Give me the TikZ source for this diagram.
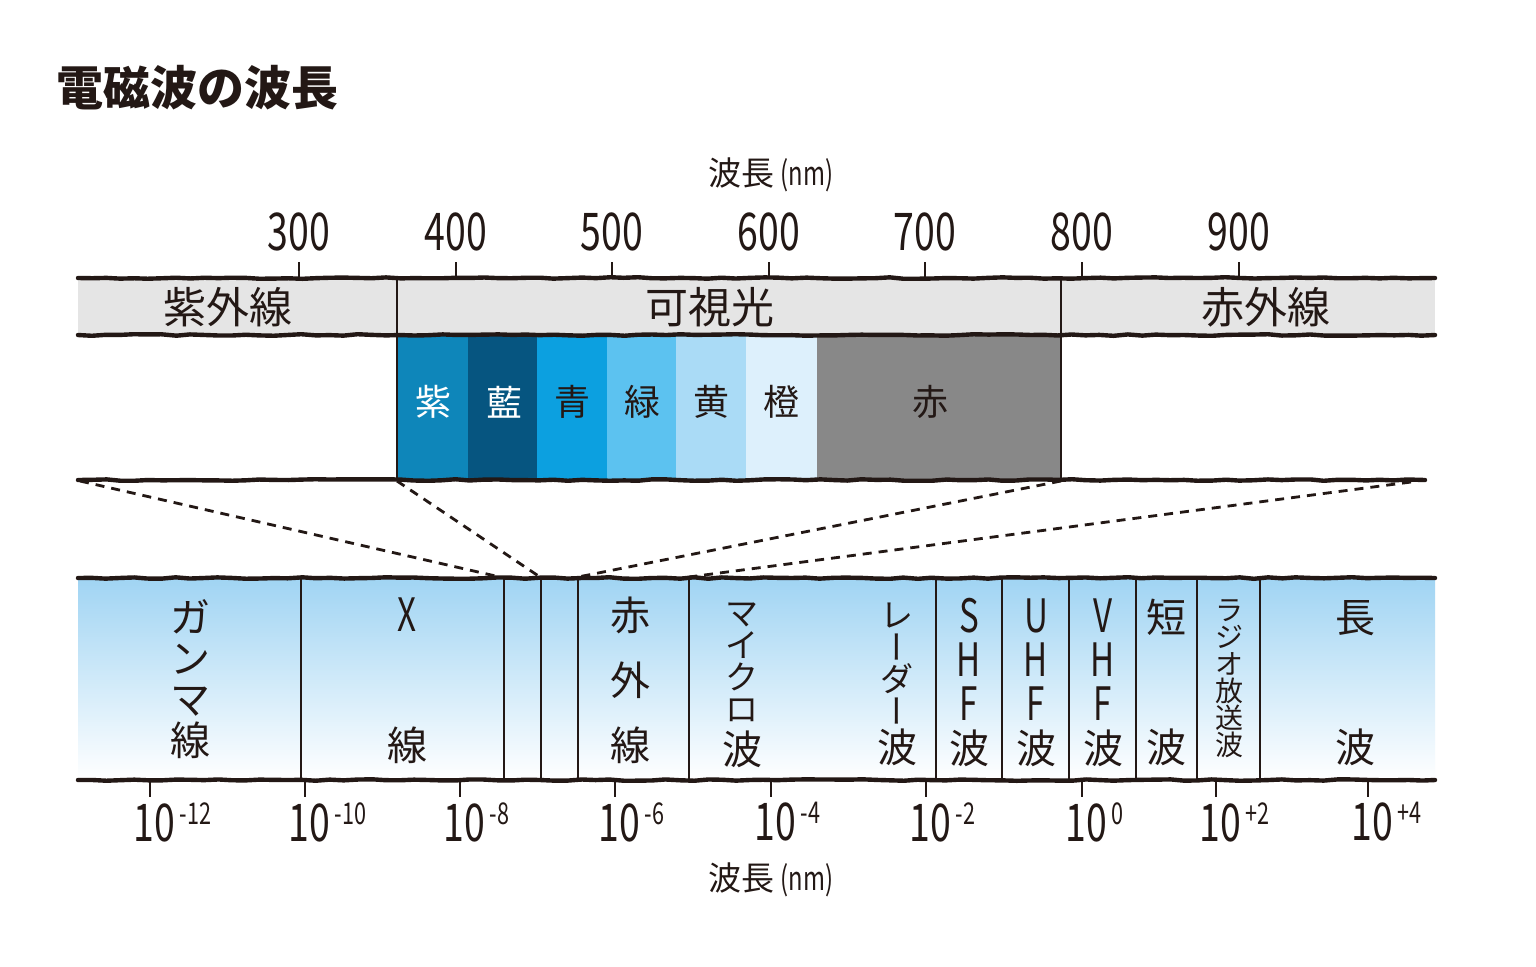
\documentclass[tikz,border=0pt]{standalone}
\usepackage{fontspec}
\setmainfont{Noto Sans CJK JP}
\newfontfamily\numfont[FakeStretch=0.72]{Noto Sans CJK JP}
\usetikzlibrary{decorations.pathmorphing}
\definecolor{bandgray}{RGB}{229,229,229}
\definecolor{skytop}{RGB}{160,212,243}
\definecolor{cviolet}{RGB}{14,134,186}
\definecolor{cindigo}{RGB}{6,85,128}
\definecolor{cblue}{RGB}{12,160,224}
\definecolor{cgreen}{RGB}{92,194,240}
\definecolor{cyellow}{RGB}{170,219,246}
\definecolor{corange}{RGB}{221,240,252}
\definecolor{cred}{RGB}{136,136,136}
\definecolor{inkline}{RGB}{35,24,21}
\tikzset{
  rim/.style={inkline, line width=2.2pt, line cap=round, decorate,
              decoration={random steps, segment length=7pt, amplitude=0.4pt}},
  sep/.style={inkline, line width=0.9pt},
  axtick/.style={inkline, line width=1.2pt},
  guide/.style={inkline, line width=1.4pt, dash pattern=on 4.5pt off 3.5pt},
  titlelbl/.style={font=\fontsize{23.5}{24}\selectfont\bfseries, text=inkline},
  axlbl/.style={font=\fontsize{16.5}{17}\selectfont, text=inkline},
  numlbl/.style={font=\numfont\fontsize{26}{26}\selectfont, text=inkline},
  bandlbl/.style={font=\fontsize{21.5}{22}\selectfont, text=inkline},
  hue/.style={font=\fontsize{18}{18}\selectfont},
  vch/.style={font=\fontsize{20}{20}\selectfont, text=inkline, inner sep=0pt,
              text height=16pt, text depth=1pt},
  vkana/.style={font=\fontsize{16.5}{17}\selectfont, text=inkline, inner sep=0pt,
                text height=13pt, text depth=0.5pt},
  vsmall/.style={font=\fontsize{14}{14}\selectfont, text=inkline, inner sep=0pt,
                 text height=11pt, text depth=0.5pt},
  vlat/.style={font=\numfont\fontsize{23}{23}\selectfont, text=inkline, inner sep=0pt,
               text height=16.5pt, text depth=0pt},
}
\newcommand{\pw}[1]{\llap{1}\rlap{0{\fontsize{15}{15}\selectfont\raisebox{8.5pt}{\,#1}}}}

\begin{document}
\begin{tikzpicture}[x=0.5pt,y=-0.5pt]
  \useasboundingbox[fill=white] (0,0) rectangle (1536,966);
  \node[titlelbl] (title) at (197,88) {電磁波の波長};
  \node[axlbl] (toplbl) at (771,175) {波長\,{\numfont(nm)}};

  \fill[bandgray] (78,278) rectangle (1435,335);
  \foreach \c/\a/\b/\t/\k/\m in {cviolet/397/468/紫/white/433, cindigo/468/537/藍/white/504,
      cblue/537/607/青/inkline/572, cgreen/607/676/緑/inkline/642, cyellow/676/746/黄/inkline/711,
      corange/746/817/橙/inkline/781, cred/817/1061/赤/inkline/930} {
    \fill[\c] (\a,335) rectangle (\b,480);
    \node[hue, text=\k] (h\c) at (\m,402) {\t};
  }
  \node[bandlbl] (uv) at (228,307) {紫外線};
  \node[bandlbl] (vis) at (710,307) {可視光};
  \node[bandlbl] (ir) at (1266,307) {赤外線};

  \foreach \v/\x in {300/299,400/456,500/612,600/769,700/925,800/1082,900/1239} {
    \coordinate (t\v) at (\x,278);
    \draw[axtick] (t\v) -- ++(0,-16);
    \node[numlbl] (n\v) at (\x,232) {\v};
  }

  \shade[top color=skytop, middle color=skytop!45, bottom color=white] (78,578) rectangle (1435,780);
  \foreach \x [count=\i] in {301,504,541,578,689,936,1002,1069,1136,1197,1260}
    \draw[sep] (\x,578) -- (\x,780);

  \draw[sep] (397,278) -- (397,480);
  \draw[sep] (1061,278) -- (1061,480);
  \draw[rim] (78,278) -- (1435,278);
  \draw[rim] (78,335) -- (1435,335);
  \draw[rim] (78,480) -- (1425,480);
  \draw[rim] (78,578) -- (1435,578);
  \draw[rim] (78,780) -- (1435,780);

  \coordinate (za) at (80,481);   \coordinate (zb) at (500,577);
  \coordinate (zc) at (397,481);  \coordinate (zd) at (540,577);
  \coordinate (ze) at (1061,481); \coordinate (zf) at (578,577);
  \coordinate (zg) at (1411,482); \coordinate (zh) at (689,577);
  \draw[guide] (za) -- (zb);
  \draw[guide] (zc) -- (zd);
  \draw[guide] (ze) -- (zf);
  \draw[guide] (zg) -- (zh);

  \foreach \ch [count=\i] in {ガ,ン,マ,線}
    \node[vch] (gam\i) at (190,576+41*\i) {\ch};
  \node[vlat] (xr1) at (407,615) {X};
  \node[vch] (xr2) at (407,745) {線};
  \foreach \ch [count=\i] in {赤,外,線}
    \node[vch] (irw\i) at (630,550+65*\i) {\ch};
  \foreach \ch [count=\i] in {マ,イ,ク,ロ}
    \node[vkana] (mic\i) at (742,581+32*\i) {\ch};
  \node[vch] (mic5) at (742,749) {波};
  \foreach \ch/\r [count=\i] in {レ/0,ー/90,ダ/0,ー/90}
    \node[vkana, rotate=\r] (rad\i) at (897,583+32*\i) {\ch};
  \node[vch] (rad5) at (897,747) {波};
  \foreach \a/\x in {S/969,U/1036,V/1103} {
    \node[vlat] (\a1) at (\x,616) {\a};
    \node[vlat] (\a2) at (\x,660) {H};
    \node[vlat] (\a3) at (\x,704) {F};
    \node[vch] (\a4) at (\x,748) {波};
  }
  \node[vch] (sw1) at (1166,617) {短};
  \node[vch] (sw2) at (1166,747) {波};
  \foreach \ch [count=\i] in {ラ,ジ,オ,放,送,波}
    \node[vsmall] (am\i) at (1229,583+27*\i) {\ch};
  \node[vch] (lw1) at (1355,617) {長};
  \node[vch] (lw2) at (1355,747) {波};

  \foreach \e/\x [count=\i] in {-12/150,-10/305,-8/460,-6/615,-4/771,-2/926,0/1082,+2/1216,+4/1368} {
    \coordinate (b\i) at (\x,780);
    \draw[axtick] (b\i) -- ++(0,17);
    \node[numlbl] (e\i) at (\x+4,822) {\pw{\e}};
  }
  \node[axlbl] (botlbl) at (771,880) {波長\,{\numfont(nm)}};
\end{tikzpicture}
\end{document}
